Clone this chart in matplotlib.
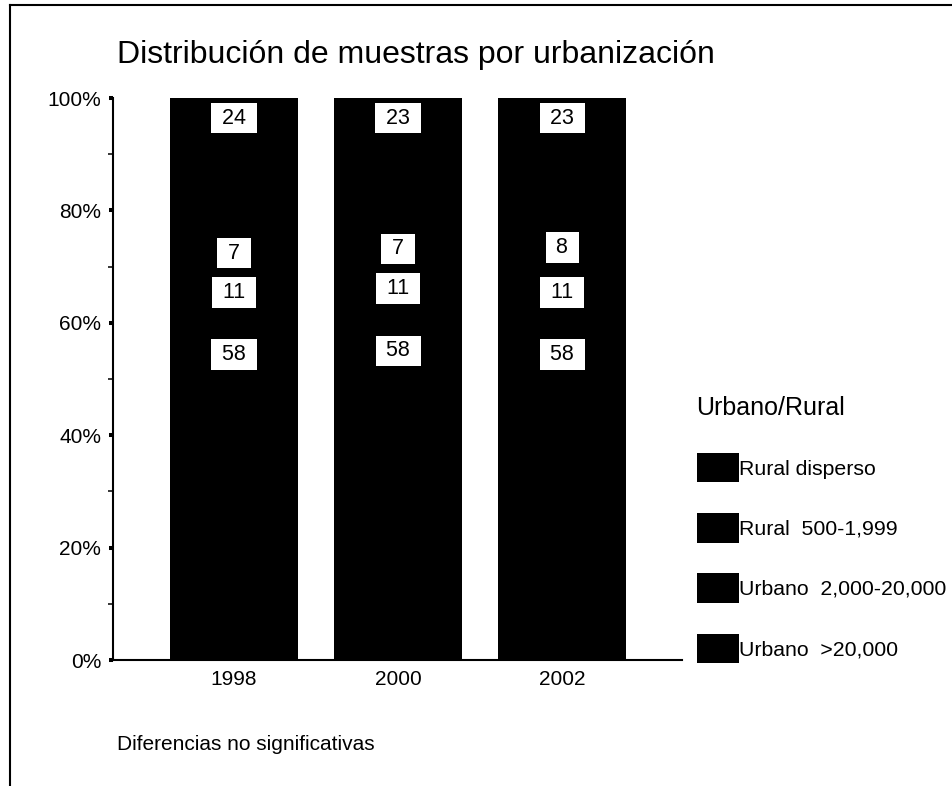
import numpy as np
import matplotlib
matplotlib.use('Agg')
import matplotlib.pyplot as plt
from matplotlib.lines import Line2D

plt.rcParams['font.family'] = ['Liberation Sans', 'DejaVu Sans']

# datos: porcentaje de muestras por tipo de localidad
anios = ['1998', '2000', '2002']
urbano_20000 = [58, 58, 58]
urbano_2000_20000 = [11, 11, 11]
rural_500_1999 = [7, 7, 8]
rural_disperso = [24, 23, 23]
series = [urbano_20000, urbano_2000_20000, rural_500_1999, rural_disperso]
nombres = ['Urbano  >20,000', 'Urbano  2,000-20,000', 'Rural  500-1,999', 'Rural disperso']

fig = plt.figure(figsize=(9.52, 7.86), dpi=100)
ax = fig.add_axes([0.1187, 0.1603, 0.5977, 0.715])

x = np.arange(len(anios))
totales = np.sum(series, axis=0)
base = np.zeros(len(anios))
handles = []
for vals, nom in zip(series, nombres):
    alto = np.array(vals) / totales * 100   # apilado al 100%
    b = ax.bar(x, alto, bottom=base, width=0.78, color='black', label=nom)
    handles.append(b)
    tope = base + alto
    for xi, yi, v in zip(x, tope, vals):
        ax.annotate(f' {v} ', (xi, yi), xytext=(0, -7), textcoords='offset points',
                    ha='center', va='top', fontsize=15.5,
                    bbox=dict(boxstyle='square,pad=0.22', fc='white', ec='none'))
    base = tope

ax.set_xlim(-0.738, 2.73)
ax.set_ylim(0, 100)
ax.set_xticks(x)
ax.set_xticklabels(anios)
ax.set_yticks(np.arange(0, 101, 20))
ax.set_yticklabels([f'{v}%' for v in range(0, 101, 20)])
ax.set_yticks(np.arange(10, 100, 20), minor=True)
ax.tick_params(axis='y', which='major', length=2.9, width=2.9, pad=5.5, labelsize=15)
ax.tick_params(axis='y', which='minor', length=3.6, width=1.1)
ax.tick_params(axis='x', length=0, pad=7, labelsize=15)
for s in ['top', 'right']:
    ax.spines[s].set_visible(False)
for s in ['left', 'bottom']:
    ax.spines[s].set_linewidth(1.5)

fig.text(117/952, 1 - 55/786, 'Distribución de muestras por urbanización',
         fontsize=23, ha='left', va='center')
fig.text(117/952, 1 - 745/786, 'Diferencias no significativas',
         fontsize=15, ha='left', va='center')

leg = fig.legend(handles[::-1], nombres[::-1], title='Urbano/Rural',
                 loc='upper left', bbox_to_anchor=(686/952, 1 - 385/786),
                 frameon=False, fontsize=15.3, title_fontsize=18,
                 handlelength=2.0, handleheight=1.75, handletextpad=0.0,
                 labelspacing=1.45, borderpad=0, alignment='left')
leg._legend_box.sep = 24

# marco de la figura (solo arriba e izquierda)
fig.add_artist(Line2D([10/952, 1], [1 - 5/786, 1 - 5/786], color='black', lw=1.5))
fig.add_artist(Line2D([10/952, 10/952], [0, 1 - 5/786], color='black', lw=1.5))

plt.savefig('out.png', dpi=100)
